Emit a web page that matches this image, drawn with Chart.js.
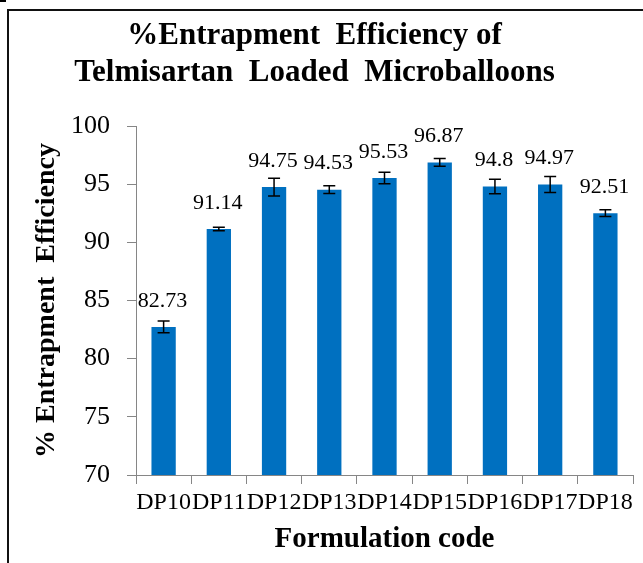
<!DOCTYPE html>
<html><head><meta charset="utf-8">
<script src="https://cdn.jsdelivr.net/npm/chart.js@4.4.0/dist/chart.umd.min.js"></script>
<style>html,body{margin:0;padding:0;background:#fff}#wrap{width:643px;height:563px;position:relative}</style>
</head><body><div id="wrap"><canvas id="c" width="643" height="563"></canvas></div>
<script>
const categories = ['DP10','DP11','DP12','DP13','DP14','DP15','DP16','DP17','DP18'];
const values = [82.73, 91.14, 94.75, 94.53, 95.53, 96.87, 94.8, 94.97, 92.51];
const errors = [0.5, 0.15, 0.76, 0.34, 0.5, 0.34, 0.62, 0.69, 0.3];
const yTicks = [70, 75, 80, 85, 90, 95, 100];
const titleLines = ['%Entrapment  Efficiency of', 'Telmisartan  Loaded  Microballoons'];
const yTitle = '% Entrapment  Efficiency';
const xTitle = 'Formulation code';

const SERIF = "'Liberation Serif','Times New Roman',serif";

const decor = {
  id: 'decor',
  beforeDraw(chart) {
    const ctx = chart.ctx;
    ctx.save();
    ctx.fillStyle = '#fff';
    ctx.fillRect(0, 0, chart.width, chart.height);
    ctx.fillStyle = '#000';
    ctx.fillRect(0, 0, 6, 2);
    ctx.strokeStyle = '#111';
    ctx.lineWidth = 2;
    ctx.beginPath();
    ctx.moveTo(8, chart.height);
    ctx.lineTo(8, 10);
    ctx.lineTo(chart.width, 10);
    ctx.stroke();
    ctx.restore();
  },
  afterDatasetsDraw(chart) {
    const ctx = chart.ctx;
    const meta = chart.getDatasetMeta(0);
    const y = chart.scales.y;
    ctx.save();
    meta.data.forEach((bar, i) => {
      const v = values[i], e = errors[i];
      const y1 = y.getPixelForValue(v - e), y2 = y.getPixelForValue(v + e);
      ctx.strokeStyle = '#000';
      ctx.lineWidth = 1.5;
      ctx.beginPath();
      ctx.moveTo(bar.x, y1); ctx.lineTo(bar.x, y2);
      ctx.moveTo(bar.x - 6, y1); ctx.lineTo(bar.x + 6, y1);
      ctx.moveTo(bar.x - 6, y2); ctx.lineTo(bar.x + 6, y2);
      ctx.stroke();
      ctx.fillStyle = '#000';
      ctx.font = '22px ' + SERIF;
      ctx.textAlign = 'center';
      ctx.textBaseline = 'middle';
      ctx.fillText(String(v), bar.x - 1, bar.y - 26);
    });
    ctx.restore();
  },
  afterDraw(chart) {
    const ctx = chart.ctx;
    ctx.save();
    ctx.fillStyle = '#000';
    ctx.font = 'bold 31px ' + SERIF;
    ctx.textAlign = 'center';
    ctx.textBaseline = 'alphabetic';
    ctx.fillText(titleLines[0], 314.5, 44);
    ctx.fillText(titleLines[1], 314.5, 81);
    ctx.restore();
  }
};

new Chart(document.getElementById('c'), {
  type: 'bar',
  data: {
    labels: categories,
    datasets: [{
      data: values,
      backgroundColor: '#0070C0',
      borderWidth: 0,
      barPercentage: 0.44,
      categoryPercentage: 1.0
    }]
  },
  options: {
    responsive: false,
    animation: false,
    devicePixelRatio: 1,
    layout: { padding: { top: 126, right: 10, bottom: 0, left: 0 } },
    plugins: { legend: { display: false }, tooltip: { enabled: false }, title: { display: false } },
    scales: {
      x: {
        grid: { offset: true, drawOnChartArea: false, drawTicks: true, tickLength: 9, color: '#868686' },
        border: { display: true, color: '#868686', width: 1 },
        ticks: { font: { family: SERIF, size: 24 }, color: '#000', padding: 4, maxRotation: 0, autoSkip: false },
        title: { display: true, text: xTitle, color: '#000', font: { family: SERIF, size: 29, weight: 'bold' }, padding: { top: 0, bottom: 6 } },
        afterFit(s) { s.height = 88; }
      },
      y: {
        min: 70, max: 100,
        afterBuildTicks(s) { s.ticks = yTicks.map(v => ({ value: v })); },
        grid: { drawOnChartArea: false, drawTicks: true, tickLength: 9, color: '#868686' },
        border: { display: true, color: '#868686', width: 1 },
        ticks: { font: { family: SERIF, size: 26 }, color: '#000', padding: 17 },
        title: { display: true, text: yTitle, color: '#000', font: { family: SERIF, size: 28, weight: 'bold' }, padding: { top: 30, bottom: 0 } },
        afterFit(s) { s.width = 136; }
      }
    }
  },
  plugins: [decor]
});
</script></body></html>
